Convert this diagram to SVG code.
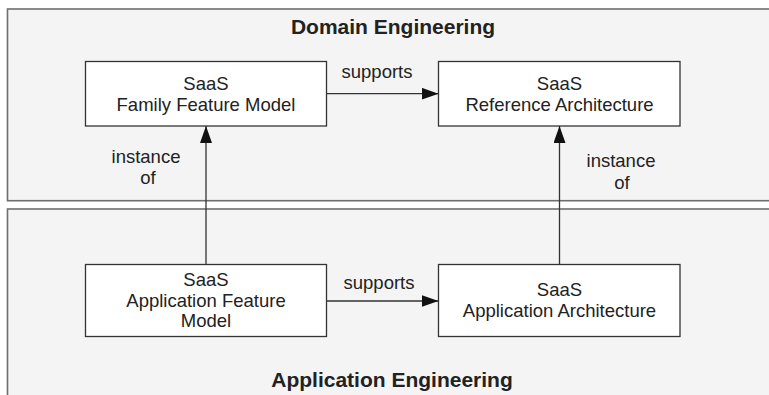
<svg xmlns="http://www.w3.org/2000/svg" width="769" height="395" viewBox="0 0 769 395">
<style>
.panel{fill:#f4f4f4;stroke:#6e6e6e;stroke-width:1.6}
.node{fill:#ffffff;stroke:#333333;stroke-width:1.3}
.t{font-family:"Liberation Sans",Arial,sans-serif;font-size:18.5px;fill:#222222;text-anchor:middle}
.title{font-family:"Liberation Sans",Arial,sans-serif;font-size:21px;font-weight:bold;fill:#222222;text-anchor:middle}
.edge{stroke:#333333;stroke-width:1.3;fill:none;marker-end:url(#ah)}
</style>
<defs>
<marker id="ah" markerUnits="userSpaceOnUse" markerWidth="17" markerHeight="12" refX="17" refY="6" orient="auto">
<path d="M0,0 L17,6 L0,12 z" fill="#111111"/>
</marker>
</defs>
<rect width="769" height="395" fill="#ffffff"/>
<g id="domain-engineering">
<rect class="panel" x="7.5" y="9" width="800" height="191.7"/>
<text class="title" x="393" y="34">Domain Engineering</text>
</g>
<g id="application-engineering">
<rect class="panel" x="7.5" y="209" width="800" height="220"/>
<text class="title" x="392" y="386.5">Application Engineering</text>
</g>
<g id="family-feature-model">
<rect class="node" x="85.5" y="61.5" width="241" height="64.5"/>
<text class="t" x="206" y="90">SaaS</text>
<text class="t" x="206" y="110.7">Family Feature Model</text>
</g>
<g id="reference-architecture">
<rect class="node" x="438.5" y="61.5" width="241.5" height="64.5"/>
<text class="t" x="559.5" y="90">SaaS</text>
<text class="t" x="559.5" y="110.7">Reference Architecture</text>
</g>
<g id="application-feature-model">
<rect class="node" x="85.5" y="264.5" width="241" height="72"/>
<text class="t" x="206" y="286">SaaS</text>
<text class="t" x="206" y="306.5">Application Feature</text>
<text class="t" x="206" y="327">Model</text>
</g>
<g id="application-architecture">
<rect class="node" x="438.5" y="264.5" width="241.5" height="72"/>
<text class="t" x="559.5" y="296">SaaS</text>
<text class="t" x="559.5" y="317">Application Architecture</text>
</g>
<g id="connectors">
<line class="edge" x1="326.5" y1="93.7" x2="438.5" y2="93.7"/>
<text class="t" x="377" y="77.7">supports</text>
<line class="edge" x1="326.5" y1="301" x2="438.5" y2="301"/>
<text class="t" x="379" y="289">supports</text>
<line class="edge" x1="206" y1="264.5" x2="206" y2="126"/>
<text class="t" x="146" y="163">instance</text>
<text class="t" x="148" y="184">of</text>
<line class="edge" x1="559.5" y1="264.5" x2="559.5" y2="126"/>
<text class="t" x="621" y="167">instance</text>
<text class="t" x="622" y="189">of</text>
</g>
</svg>
